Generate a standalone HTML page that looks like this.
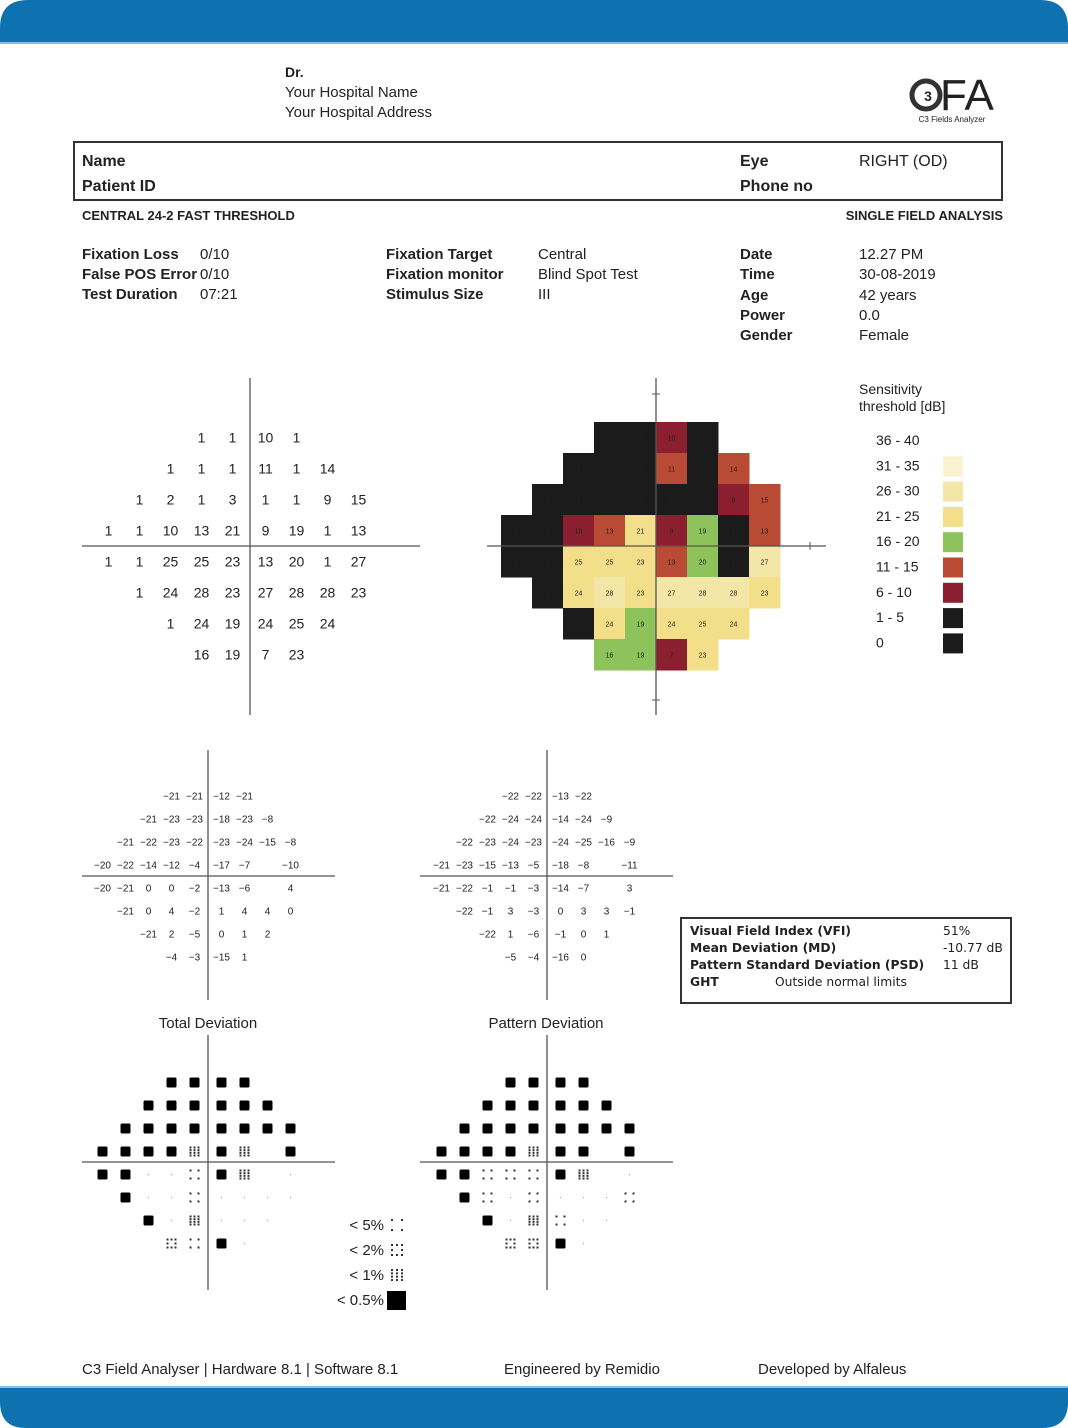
<!DOCTYPE html>
<html><head><meta charset="utf-8">
<style>
html,body{margin:0;padding:0;background:#fff;}
body{width:1068px;height:1428px;overflow:hidden;}
svg{display:block;}
text{font-family:"Liberation Sans Narrow","Liberation Sans",sans-serif;fill:#222;}
.b{font-weight:bold;}
.dv{font-family:"DejaVu Sans","Liberation Sans",sans-serif;}
</style></head>
<body>
<svg id="page" width="1068" height="1428" viewBox="0 0 1068 1428" xmlns="http://www.w3.org/2000/svg">
  <path d="M0,42 L0,28 Q0,0 28,0 L1040,0 Q1068,0 1068,28 L1068,42 Z" fill="#0f72b0"/>
  <rect x="0" y="42" width="1068" height="2" fill="#8cc0e0"/>
  <path d="M0,1388 L1068,1388 L1068,1402 Q1068,1428 1042,1428 L26,1428 Q0,1428 0,1402 Z" fill="#0f72b0"/>
  <rect x="0" y="1386" width="1068" height="2" fill="#8cc0e0"/>

  <g>
    <text x="285" y="77" font-size="14" class="b">Dr.</text>
    <text x="285" y="97" font-size="15">Your Hospital Name</text>
    <text x="285" y="117" font-size="15">Your Hospital Address</text>
  </g>
  <g>
    <circle cx="926" cy="95" r="14" fill="none" stroke="#333" stroke-width="5"/>
    <text x="928" y="101" font-size="14" class="b" text-anchor="middle">3</text>
    <text x="940" y="110" font-size="44" font-family="Liberation Sans" fill="#333">FA</text>
    <text x="952" y="122" font-size="8" text-anchor="middle">C3 Fields Analyzer</text>
  </g>

  <rect x="74" y="142" width="928" height="58" fill="none" stroke="#333" stroke-width="2"/>
  <text x="82" y="166" font-size="16" class="b">Name</text>
  <text x="82" y="191" font-size="16" class="b">Patient ID</text>
  <text x="740" y="166" font-size="16" class="b">Eye</text>
  <text x="859" y="166" font-size="16">RIGHT (OD)</text>
  <text x="740" y="191" font-size="16" class="b">Phone no</text>
  <text x="82" y="220" font-size="13" class="b">CENTRAL 24-2 FAST THRESHOLD</text>
  <text x="1003" y="220" font-size="13" class="b" text-anchor="end">SINGLE FIELD ANALYSIS</text>

  <g font-size="15">
    <text x="82" y="259" class="b">Fixation Loss</text><text x="200" y="259">0/10</text>
    <text x="82" y="279" class="b">False POS Error</text><text x="200" y="279">0/10</text>
    <text x="82" y="299" class="b">Test Duration</text><text x="200" y="299">07:21</text>
    <text x="386" y="259" class="b">Fixation Target</text><text x="538" y="259">Central</text>
    <text x="386" y="279" class="b">Fixation monitor</text><text x="538" y="279">Blind Spot Test</text>
    <text x="386" y="299" class="b">Stimulus Size</text><text x="538" y="299">III</text>
    <text x="740" y="259" class="b">Date</text><text x="859" y="259">12.27 PM</text>
    <text x="740" y="279" class="b">Time</text><text x="859" y="279">30-08-2019</text>
    <text x="740" y="300" class="b">Age</text><text x="859" y="300">42 years</text>
    <text x="740" y="320" class="b">Power</text><text x="859" y="320">0.0</text>
    <text x="740" y="340" class="b">Gender</text><text x="859" y="340">Female</text>
  </g>

  <g id="thr"></g>
  <g id="cmap"></g>
  <g id="legend">
    <text x="859" y="394" font-size="14">Sensitivity</text>
    <text x="859" y="411" font-size="14">threshold [dB]</text>
  </g>
  <g id="td"></g>
  <g id="pd"></g>
  <g id="tds"></g>
  <g id="pds"></g>
  <text x="208" y="1028" font-size="15" text-anchor="middle">Total Deviation</text>
  <text x="546" y="1028" font-size="15" text-anchor="middle">Pattern Deviation</text>
  <g id="plegend"></g>

  <g>
    <rect x="681" y="918" width="330" height="85" fill="none" stroke="#333" stroke-width="2"/>
    <text x="690" y="935" font-size="12.3" class="dv b">Visual Field Index (VFI)</text><text x="943" y="935" font-size="12.3" class="dv">51%</text>
    <text x="690" y="952" font-size="12.3" class="dv b">Mean Deviation (MD)</text><text x="943" y="952" font-size="12.3" class="dv">-10.77 dB</text>
    <text x="690" y="969" font-size="12.3" class="dv b">Pattern Standard Deviation (PSD)</text><text x="943" y="969" font-size="12.3" class="dv">11 dB</text>
    <text x="690" y="986" font-size="12.3" class="dv b">GHT</text><text x="775" y="986" font-size="12.3" class="dv">Outside normal limits</text>
  </g>

  <g font-size="15">
    <text x="82" y="1374">C3 Field Analyser | Hardware 8.1 | Software 8.1</text>
    <text x="504" y="1374">Engineered by Remidio</text>
    <text x="758" y="1374">Developed by Alfaleus</text>
  </g>
</svg>
<script>
const rowStart=[3,2,1,0,0,1,2,3];
const thresholdVals=[
 [1,1,10,1],
 [1,1,1,11,1,14],
 [1,2,1,3,1,1,9,15],
 [1,1,10,13,21,9,19,1,13],
 [1,1,25,25,23,13,20,1,27],
 [1,24,28,23,27,28,28,23],
 [1,24,19,24,25,24],
 [16,19,7,23]
];
const totalDevVals=[
 [-21,-21,-12,-21],
 [-21,-23,-23,-18,-23,-8],
 [-21,-22,-23,-22,-23,-24,-15,-8],
 [-20,-22,-14,-12,-4,-17,-7,null,-10],
 [-20,-21,0,0,-2,-13,-6,null,4],
 [-21,0,4,-2,1,4,4,0],
 [-21,2,-5,0,1,2],
 [-4,-3,-15,1]
];
const patternDevVals=[
 [-22,-22,-13,-22],
 [-22,-24,-24,-14,-24,-9],
 [-22,-23,-24,-23,-24,-25,-16,-9],
 [-21,-23,-15,-13,-5,-18,-8,null,-11],
 [-21,-22,-1,-1,-3,-14,-7,null,3],
 [-22,-1,3,-3,0,3,3,-1],
 [-22,1,-6,-1,0,1],
 [-5,-4,-16,0]
];
const totalDevProb=[
 [4,4,4,4],
 [4,4,4,4,4,4],
 [4,4,4,4,4,4,4,4],
 [4,4,4,4,3,4,3,null,4],
 [4,4,0,0,1,4,3,null,0],
 [4,0,0,1,0,0,0,0],
 [4,0,3,0,0,0],
 [2,1,4,0]
];
const patternDevProb=[
 [4,4,4,4],
 [4,4,4,4,4,4],
 [4,4,4,4,4,4,4,4],
 [4,4,4,4,3,4,4,null,4],
 [4,4,1,1,1,4,3,null,0],
 [4,1,0,1,0,0,0,1],
 [4,0,3,1,0,0],
 [2,2,4,0]
];
const legendLabels=["36 - 40","31 - 35","26 - 30","21 - 25","16 - 20","11 - 15","6 - 10","1 - 5","0"];
const legendColors=["#ffffff","#fbf2d2","#f4e6a6","#f3df8a","#8dc35a","#b94a34","#8c1f2f","#1b1b1b","#1b1b1b"];
const probLabels=["< 5%","< 2%","< 1%","< 0.5%"];

const NS="http://www.w3.org/2000/svg";
function mk(tag,attrs,parent){const e=document.createElementNS(NS,tag);for(const k in attrs)e.setAttribute(k,attrs[k]);parent.appendChild(e);return e;}
function colorFor(v){if(v>=36)return legendColors[0];if(v>=31)return legendColors[1];if(v>=26)return legendColors[2];if(v>=21)return legendColors[3];if(v>=16)return legendColors[4];if(v>=11)return legendColors[5];if(v>=6)return legendColors[6];if(v>=1)return legendColors[7];return legendColors[8];}
function gridX(cx,step,c){return c<=4? cx-(4.5-c)*step : cx+(c-4.5)*step;}
function cells(vals,fn){vals.forEach((row,r)=>row.forEach((v,i)=>{if(v!==null)fn(r,rowStart[r]+i,v);}));}
function axes(g,cx,cy,x1,x2,y1,y2){mk('line',{x1:x1,y1:cy,x2:x2,y2:cy,stroke:'#555','stroke-width':1.3},g);mk('line',{x1:cx,y1:y1,x2:cx,y2:y2,stroke:'#555','stroke-width':1.3},g);}

(function(){const g=document.getElementById('thr');const cx=250,cy=546,s=31;
axes(g,cx,cy,82,420,378,715);
cells(thresholdVals,(r,c,v)=>{const t=mk('text',{x:gridX(cx,s,c)+(c>=5?0:-2),y:cy+(r-3.5)*s+5,'font-size':14,'text-anchor':'middle'},g);t.textContent=v;

});})();

(function(){const g=document.getElementById('cmap');const cx=656,cy=546,s=31;
cells(thresholdVals,(r,c,v)=>{const x=gridX(cx,s,c),y=cy+(r-3.5)*s;
const re=mk('rect',{x:x-s/2,y:y-s/2,width:s+0.5,height:s+0.5,fill:colorFor(v)},g);


const t=mk('text',{x:x,y:y+3,'font-size':7,'text-anchor':'middle',fill:v<16?'#ccc':'#555'},g);t.textContent=v;});
axes(g,cx,cy,487,826,378,715);
[[cx,394],[cx,700]].forEach(p=>mk('line',{x1:p[0]-4,y1:p[1],x2:p[0]+4,y2:p[1],stroke:'#555'},g));
mk('line',{x1:810,y1:cy-4,x2:810,y2:cy+4,stroke:'#555'},g);})();

(function(){const g=document.getElementById('legend');
legendLabels.forEach((l,i)=>{const y=440+i*25.3;const t=mk('text',{x:876,y:y+5,'font-size':14},g);t.textContent=l;
const r=mk('rect',{x:943,y:y-9,width:20,height:20,fill:legendColors[i]},g);

});})();

function devGrid(id,vals,cx,cy,x1,x2,y1,y2){const g=document.getElementById(id);const s=23;
axes(g,cx,cy,x1,x2,y1,y2);
cells(vals,(r,c,v)=>{const t=mk('text',{x:gridX(cx,s,c)+(c>=5?2:-2),y:cy+(r-3.5)*s+4,'font-size':10,'text-anchor':'middle'},g);t.textContent=(v<0?'\u2212'+(-v):v);

});}
devGrid('td',totalDevVals,208,876,82,335,750,1000);
devGrid('pd',patternDevVals,547,876,420,673,750,1000);

function sym(g,x,y,p,sz){sz=sz||10;const h=sz/2;
if(p===4){mk('rect',{x:x-h,y:y-h,width:sz,height:sz,rx:1.5,fill:'#000'},g);return;}
if(p===0){mk('rect',{x:x-0.6,y:y-0.6,width:1.2,height:1.2,fill:'#aaa'},g);return;}
let pts=[];
if(p===1)pts=[[-h,-h],[h-2,-h],[-h,h-2],[h-2,h-2]];
if(p===2)pts=[[-h,-h],[-1,-h],[h-2,-h],[-h,-1],[h-2,-1],[-h,h-2],[-1,h-2],[h-2,h-2]];
if(p===3){for(let i=0;i<4;i++)for(let j=0;j<3;j++)pts.push([-h+j*(sz-2)/2,-h+i*(sz-2)/3]);}
pts.forEach(q=>mk('rect',{x:x+q[0],y:y+q[1],width:2,height:2,fill:'#333'},g));}
function probGrid(id,vals,cx,cy,x1,x2,y1,y2){const g=document.getElementById(id);const s=23;
axes(g,cx,cy,x1,x2,y1,y2);
cells(vals,(r,c,v)=>{sym(g,gridX(cx,s,c)+(c>=5?2:-2),cy+(r-3.5)*s+1,v);});}
probGrid('tds',totalDevProb,208,1162,82,335,1035,1290);
probGrid('pds',patternDevProb,547,1162,420,673,1035,1290);

(function(){const g=document.getElementById('plegend');
probLabels.forEach((l,i)=>{const y=1225+i*25;const t=mk('text',{x:384,y:y+5,'font-size':15,'text-anchor':'end'},g);t.textContent=l;
if(i===3)mk('rect',{x:387,y:y-9,width:19,height:19,fill:'#000'},g);else sym(g,397,y,i+1,12);});})();
</script>
</body></html>
